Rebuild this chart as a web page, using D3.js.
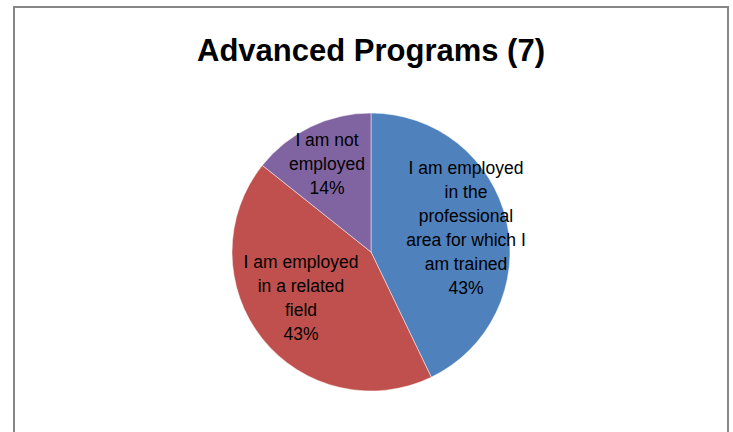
<!DOCTYPE html>
<html>
<head>
<meta charset="utf-8">
<script src="https://cdn.jsdelivr.net/npm/d3@7"></script>
<style>
  body { margin: 0; background: #fff; }
  text { font-family: "Liberation Sans", Arial, sans-serif; }
</style>
</head>
<body>
<script>
// chart data
const categories = [
    ["I am employed", "in the", "professional", "area for which I", "am trained"],
    ["I am employed", "in a related", "field"],
    ["I am not", "employed"]
];
const counts = [3, 3, 1];
const percents = ["43%", "43%", "14%"];
const colours = ["#4F81BD", "#C0504D", "#8064A2"];

const width = 733, height = 432;

var svg = d3.select("body").append("svg")
    .attr("width", width)
    .attr("height", height);

// outer chart border
svg.append("rect")
    .attr("x", 14)
    .attr("y", 7)
    .attr("width", 714)
    .attr("height", 440)
    .attr("fill", "white")
    .attr("stroke", "#868686")
    .attr("stroke-width", 2);

// title
svg.append("text")
    .attr("x", 371)
    .attr("y", 61)
    .attr("text-anchor", "middle")
    .attr("font-size", 31)
    .attr("font-weight", "bold")
    .attr("fill", "black")
    .text("Advanced Programs (7)");

const cx = 371, cy = 252, r = 139;

var pie = d3.pie().sort(null).value(function(d) { return d; });
var arc = d3.arc().innerRadius(0).outerRadius(r);
var arcs = pie(counts);

var g = svg.append("g").attr("transform", "translate(" + cx + "," + cy + ")");

g.selectAll(".slice")
    .data(arcs)
    .enter().append("path")
    .attr("class", "slice")
    .attr("d", arc)
    .attr("fill", function(d, i) { return colours[i]; })
    .attr("stroke", "#ffffff")
    .attr("stroke-opacity", 0.6)
    .attr("stroke-width", 0.8);

// label anchor points (centre of first line), relative to pie centre
const labelPos = [[95, -84], [-70, 10], [-44, -112]];
const lineH = 24;

g.selectAll(".label")
    .data(arcs)
    .enter().append("text")
    .attr("class", "label")
    .attr("text-anchor", "middle")
    .attr("font-size", 17.5)
    .attr("fill", "black")
    .each(function(d, i) {
        var t = d3.select(this);
        var lines = categories[i].concat([percents[i]]);
        lines.forEach(function(s, k) {
            t.append("tspan")
                .attr("x", labelPos[i][0])
                .attr("y", labelPos[i][1] + 6 + k * lineH)
                .text(s);
        });
    });
</script>
</body>
</html>
